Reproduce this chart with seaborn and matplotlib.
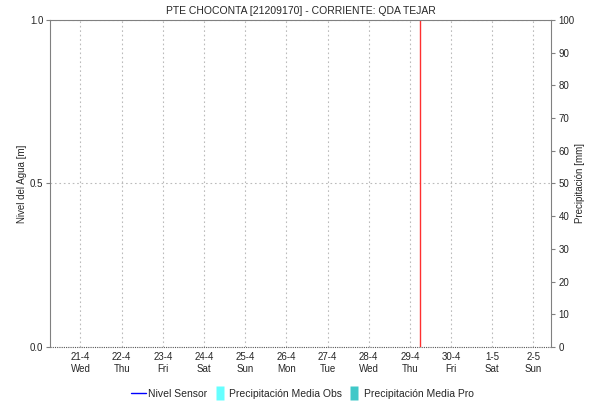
import numpy as np
import pandas as pd
import matplotlib
matplotlib.use("Agg")
import matplotlib.pyplot as plt
from matplotlib.lines import Line2D
from matplotlib.path import Path
import seaborn as sns

# Chart data (no measurements in the window)
tick_days = pd.date_range("2023-04-21", "2023-05-02", freq="D")
day_names = ["Wed", "Thu", "Fri", "Sat", "Sun", "Mon", "Tue", "Wed", "Thu", "Fri", "Sat", "Sun"]
nivel_time = []
nivel_value = []
x_start = pd.Timestamp("2023-04-20 06:30")
x_end = pd.Timestamp("2023-05-02 10:30")
now_time = pd.Timestamp("2023-04-29 06:00")

sns.set_style("white")
plt.rcParams["font.family"] = ["Liberation Sans", "DejaVu Sans"]
plt.rcParams["font.size"] = 7

fig, ax = plt.subplots(figsize=(5.93, 4.01), dpi=100)
fig.subplots_adjust(left=0.085, right=0.93, top=0.95, bottom=0.135)

df = pd.DataFrame({"time": pd.to_datetime(nivel_time), "nivel": np.array(nivel_value, dtype=float)})
if len(df):
    sns.lineplot(data=df, x="time", y="nivel", ax=ax, color="#0000ff", lw=1)

ax.set_xlim(x_start, x_end)
ax.set_ylim(0, 1)
ax.set_yticks([0, 0.5, 1.0])
ax.set_yticklabels(["0.0", "0.5", "1.0"])
ax.set_ylabel("Nivel del Agua [m]", fontsize=7, labelpad=2)

ax.set_xticks(tick_days)
ax.set_xticklabels([f"{d.day}-{d.month}\n{n}" for d, n in zip(tick_days, day_names)])
ax.grid(True, which="major", axis="both", color="#bbbbbb", ls=(0, (1.5, 2.5)), lw=0.8)
ax.axvline(now_time, color="#ff3030", lw=1)

for s in ["left", "right", "top"]:
    ax.spines[s].set_color("#808080")
    ax.spines[s].set_linewidth(0.8)
ax.spines["bottom"].set_visible(False)
ax.axhline(0, color="#555555", ls=(0, (1, 1)), lw=0.8, clip_on=False)
ax.tick_params(axis="y", length=3, color="#808080", direction="out", left=True, pad=2)
ax.tick_params(axis="x", length=0, pad=4)

ax2 = ax.twinx()
ax2.set_ylim(0, 100)
ax2.set_yticks(range(0, 101, 10))
ax2.set_ylabel("Precipitación [mm]", fontsize=7, labelpad=0)
ax2.tick_params(axis="y", length=3, color="#808080", direction="out", right=True, pad=2)
for s in ax2.spines.values():
    s.set_visible(False)

ax.set_title("PTE CHOCONTA [21209170] - CORRIENTE: QDA TEJAR", fontsize=7.5, pad=4)

rect = Path([(-0.3, -0.5), (0.3, -0.5), (0.3, 0.5), (-0.3, 0.5), (-0.3, -0.5)])
handles = [
    Line2D([], [], color="#0000ff", lw=1),
    Line2D([], [], ls="none", marker=rect, markersize=10, markerfacecolor="#66ffff", markeredgecolor="none"),
    Line2D([], [], ls="none", marker=rect, markersize=10, markerfacecolor="#40c8c8", markeredgecolor="none"),
]
labels = ["Nivel Sensor", "Precipitación Media Obs", "Precipitación Media Pro"]
fig.legend(handles, labels, loc="lower center", bbox_to_anchor=(0.51, -0.018), ncol=3, frameon=False,
           fontsize=7.5, handlelength=1.4, handletextpad=0.2, columnspacing=0.5)

fig.savefig("out.png", dpi=100)
